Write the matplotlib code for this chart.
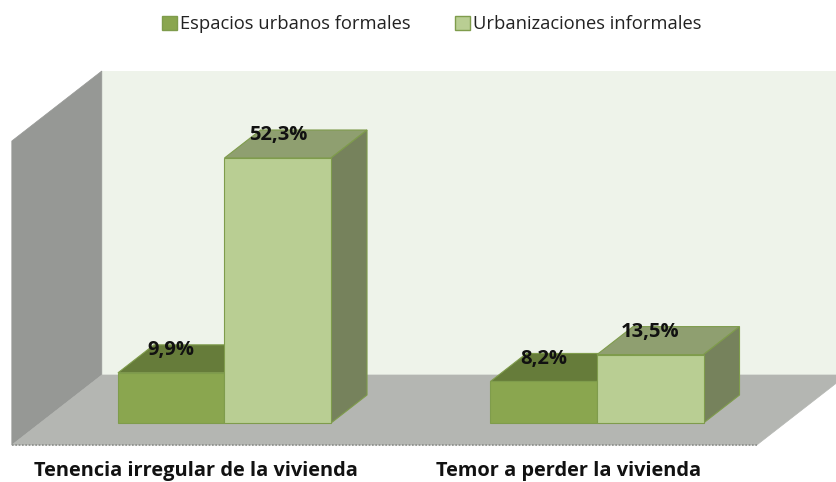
"""3D-look clustered bars: housing tenure insecurity, formal vs informal areas."""

import matplotlib

matplotlib.use("Agg")
import matplotlib.pyplot as plt
from matplotlib.patches import Patch, Polygon

categories = ["Tenencia irregular de la vivienda", "Temor a perder la vivienda"]
series_names = ["Espacios urbanos formales", "Urbanizaciones informales"]
formales = [9.9, 8.2]
informales = [52.3, 13.5]
value_labels = [["9,9%", "8,2%"], ["52,3%", "13,5%"]]

# front / top / side shades of each series
COLORS = [("#8AA64F", "#667C3A", "#667C3A"), ("#B9CE93", "#8F9F70", "#76825C")]
EDGE = "#7F9C4C"
WALL_SIDE, WALL_BACK, FLOOR = "#969895", "#EEF3EA", "#B4B6B2"

WIDTH, HEIGHT, DPI = 836, 482, 100
FLOOR_PX = 445  # pixel row of the front edge of the floor
PX_PER_VALUE = 5.067
PX_PER_CAT = 372.5
CAT0_PX = 196.2
WALL_TOP = 60

# depth is expressed in pixels; it shifts things right and up
DEPTH_BACK = 70
DEPTH_X = 90 / 70
BAR_D0, BAR_D1 = 22, 50
BAR_WIDTH = 0.286

fig = plt.figure(figsize=(WIDTH / DPI, HEIGHT / DPI), dpi=DPI)
ax = fig.add_axes([0, (HEIGHT - FLOOR_PX) / HEIGHT, 1, FLOOR_PX / HEIGHT])
ax.set_xlim(-CAT0_PX / PX_PER_CAT, (WIDTH - CAT0_PX) / PX_PER_CAT)
ax.set_ylim(0, FLOOR_PX / PX_PER_VALUE)
ax.patch.set_visible(False)
ax.spines[:].set_visible(False)


def proj(x, v, d):
    """Category/value/depth to data coordinates of the flat axes."""
    return x + d * DEPTH_X / PX_PER_CAT, v + d / PX_PER_VALUE


def face(points, color, edge=None, lw=1.0, z=1):
    ax.add_patch(Polygon([proj(*p) for p in points], closed=True, facecolor=color,
                         edgecolor=edge if edge else color, linewidth=lw, zorder=z,
                         clip_on=False))


# walls and floor
fl, fr = -0.495, 1.505
far = fr + 1
face([(fl, 0, DEPTH_BACK), (far, 0, DEPTH_BACK), (far, WALL_TOP, DEPTH_BACK),
      (fl, WALL_TOP, DEPTH_BACK)], WALL_BACK, lw=0)
face([(fl, 0, 0), (fl, 0, DEPTH_BACK), (fl, WALL_TOP, DEPTH_BACK), (fl, WALL_TOP, 0)],
     WALL_SIDE, lw=0.5)
face([(fl, 0, 0), (fr, 0, 0), (fr, 0, DEPTH_BACK), (far, 0, DEPTH_BACK),
      (fl, 0, DEPTH_BACK)], FLOOR, lw=0.5)
ax.plot([fl, fr], [0, 0], color="#8C8E8A", lw=1.2, ls=(0, (1, 1)), zorder=2, clip_on=False)

# bars, left to right so the lighter bar covers the darker top
z = 3
for i in range(len(categories)):
    for s, values in enumerate([formales, informales]):
        v = values[i]
        x0 = i - BAR_WIDTH + s * BAR_WIDTH
        x1 = x0 + BAR_WIDTH
        front, top, side = COLORS[s]
        face([(x0, v, BAR_D0), (x1, v, BAR_D0), (x1, v, BAR_D1), (x0, v, BAR_D1)],
             top, EDGE, lw=0.8, z=z)
        face([(x1, 0, BAR_D0), (x1, 0, BAR_D1), (x1, v, BAR_D1), (x1, v, BAR_D0)],
             side, EDGE, lw=0.8, z=z)
        face([(x0, 0, BAR_D0), (x1, 0, BAR_D0), (x1, v, BAR_D0), (x0, v, BAR_D0)],
             front, EDGE, lw=0.8, z=z)
        z += 1

# value labels sit above the front top edge of each bar
for s, values in enumerate([formales, informales]):
    for i, v in enumerate(values):
        cx = i - BAR_WIDTH / 2 + s * BAR_WIDTH
        lx, ly = proj(cx, v, BAR_D0)
        ax.annotate(value_labels[s][i], (lx, ly), xytext=(0, 16.5), textcoords="offset points",
                    ha="center", va="center", fontsize=14.5, fontweight="bold",
                    family="Open Sans", color="#111111", zorder=20, annotation_clip=False)

ax.set_yticks([])
ax.set_xticks(range(len(categories)))
ax.set_xticklabels(categories, fontsize=14.4, fontweight="bold", family="Open Sans",
                   color="#111111")
ax.tick_params(axis="x", length=0, pad=11.5)

handles = [Patch(facecolor=COLORS[s][0], edgecolor=EDGE, label=series_names[s]) for s in range(2)]
fig.legend(handles=handles, loc="center", bbox_to_anchor=(432 / WIDTH, 1 - 24 / HEIGHT), ncol=2,
           frameon=False, prop={"family": "Open Sans", "size": 13.2},
           handlelength=0.8, handleheight=0.8, handletextpad=0.19, columnspacing=2.4,
           labelcolor="#222222")

fig.savefig("out.png", dpi=DPI)
